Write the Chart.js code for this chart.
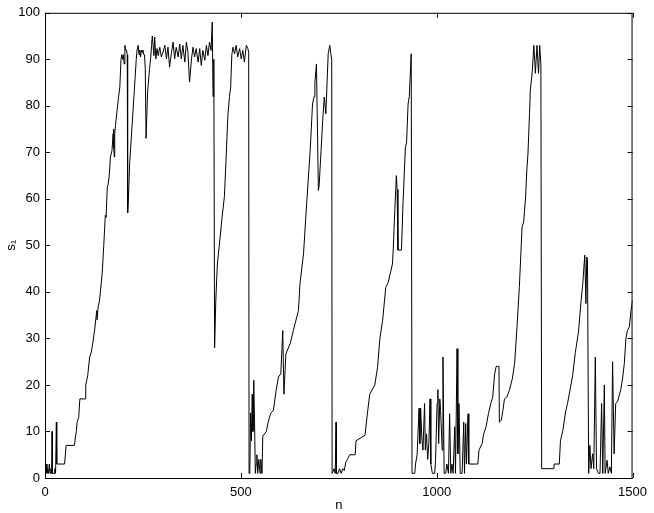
<!DOCTYPE html>
<html>
<head>
<meta charset="utf-8">
<script src="https://cdn.jsdelivr.net/npm/chart.js@4/dist/chart.umd.min.js"></script>
<style>
  html, body { margin: 0; padding: 0; background: #fff; }
  #wrap { width: 654px; height: 513px; }
</style>
</head>
<body>
<div id="wrap"><canvas id="chart" width="654" height="513"></canvas></div>
<script>
// step index n and state s_1
const nValues = [
  0, 1, 3, 5, 7, 9, 11, 13, 15, 17, 18, 19, 23, 25, 27, 29, 30, 50, 54, 75,
  78, 80, 82, 86, 89, 103, 104, 109, 114, 118, 122, 127, 132, 133, 136, 139, 146, 150, 154, 156,
  159, 161, 164, 167, 171, 174, 175, 176, 177, 178, 180, 184, 188, 191, 194, 196, 198, 200, 202, 204,
  206, 208, 210, 211, 213, 216, 222, 228, 233, 235, 238, 240, 242, 244, 246, 248, 250, 252, 254, 256,
  258, 262, 267, 270, 272, 274, 278, 280, 283, 286, 289, 293, 297, 301, 306, 310, 314, 318, 323, 327,
  331, 335, 340, 344, 348, 352, 357, 361, 365, 369, 374, 378, 382, 386, 391, 395, 399, 403, 408, 412,
  416, 420, 424, 427, 429, 431, 433, 436, 440, 445, 452, 458, 462, 467, 471, 474, 477, 480, 484, 488,
  492, 497, 501, 505, 509, 514, 518, 520, 521, 523, 525, 527, 529, 531, 533, 535, 537, 539, 541, 543,
  546, 549, 551, 554, 556, 565, 569, 573, 577, 583, 586, 590, 596, 602, 607, 610, 615, 626, 634, 647,
  651, 660, 668, 677, 683, 687, 689, 693, 698, 700, 709, 713, 717, 723, 727, 732, 733, 738, 741, 743,
  744, 748, 752, 756, 760, 764, 768, 772, 778, 792, 794, 817, 823, 829, 842, 849, 855, 862, 870, 876,
  887, 889, 893, 897, 899, 901, 910, 914, 920, 923, 927, 930, 935, 937, 944, 946, 950, 955, 957, 959,
  962, 965, 969, 971, 974, 977, 980, 983, 985, 989, 995, 997, 1001, 1003, 1005, 1008, 1010, 1014, 1016, 1019,
  1023, 1026, 1030, 1033, 1036, 1039, 1042, 1046, 1048, 1052, 1054, 1057, 1060, 1065, 1069, 1071, 1074, 1076, 1080, 1082,
  1105, 1108, 1116, 1120, 1126, 1132, 1138, 1143, 1148, 1152, 1159, 1160, 1165, 1169, 1173, 1179, 1186, 1193, 1199, 1205,
  1211, 1218, 1222, 1227, 1230, 1233, 1237, 1239, 1244, 1248, 1252, 1256, 1260, 1263, 1266, 1268, 1299, 1300, 1313, 1316,
  1322, 1329, 1334, 1347, 1354, 1362, 1368, 1373, 1378, 1381, 1383, 1385, 1388, 1391, 1394, 1398, 1401, 1405, 1408, 1413,
  1417, 1421, 1424, 1428, 1430, 1435, 1438, 1442, 1446, 1449, 1453, 1457, 1462, 1470, 1475, 1479, 1483, 1487, 1492, 1496,
  1500
];
const sValues = [
  20, 1, 3, 1, 2, 1, 3, 1, 2, 1, 10, 1, 1, 2, 1, 12, 3, 3, 7, 7,
  9, 10, 12, 13, 17, 17, 20, 22, 26, 27, 29, 32, 36, 34, 37, 38, 44, 50, 56.5, 56,
  62.5, 63, 65, 69, 70.4, 74, 75, 71, 69, 74, 75.8, 79, 82, 84, 90, 91, 90, 91, 89, 93,
  92, 92, 91, 57, 60, 67.5, 75.4, 83.3, 90, 92, 93, 91, 92, 90.5, 92, 91.5, 92, 91, 91, 88,
  73, 83, 88, 90.5, 93, 95, 90.8, 94.8, 90.1, 92.3, 90.8, 92.6, 90.5, 91.5, 93, 90.1, 92.6, 88.3, 91.5, 93.7,
  90.1, 92.6, 90.5, 93.3, 90.1, 93, 89.4, 93.7, 91.5, 85.1, 90.1, 92.6, 90.5, 92.3, 89.4, 92.3, 88.7, 91.9, 89.8, 93,
  90.8, 93.7, 91.9, 98, 82, 90, 28, 38, 46, 50, 56, 60.5, 68, 78, 82, 84, 91, 92.6, 91.2, 93,
  90.5, 92.3, 90.1, 91.9, 89.4, 93, 92.3, 91.5, 1, 2, 14, 8, 18, 10, 21, 12, 1, 3, 5, 1,
  4, 1, 4, 1, 9, 10, 11.7, 13, 14, 14.5, 16.3, 18.8, 21.7, 22.4, 31.7, 18, 26.7, 28.9, 31.7, 36,
  41.8, 48.2, 59, 70.4, 80.4, 82, 85, 89, 61.8, 63, 76.9, 81.9, 78.3, 91.2, 93, 89.8, 1, 2, 1, 12,
  1, 1, 2, 1, 2, 1.6, 3.4, 4, 5, 5, 8, 9.2, 13.8, 18, 20, 23.8, 30, 33.9, 41, 42,
  46, 49, 57.5, 65, 62, 49, 49, 59, 71, 72, 80.4, 82, 91.2, 1, 1, 3, 5, 15, 7.4, 15,
  8.8, 6, 16, 6, 9.5, 4, 7.4, 17, 3, 1, 1, 3.8, 16, 19, 7.4, 17, 14.5, 6, 26, 1,
  1, 3, 1, 13.8, 1, 3, 1, 11, 1, 27.8, 5.2, 16, 1, 1, 12, 1, 11.7, 3, 13.8, 3,
  3, 6, 7.4, 9.5, 11, 13.8, 16, 17.4, 22.4, 24, 24, 12, 12.4, 14.5, 17, 17.4, 19, 21.3, 24.6, 32.4,
  41, 54, 55, 60.4, 66, 69.7, 78.3, 83.3, 87.3, 93, 87, 93, 87, 93, 89, 2, 2, 3, 3, 8,
  10.2, 14.2, 16, 22, 27, 31.4, 37.5, 41.8, 47.9, 37.5, 47.5, 47, 1, 7, 2, 5.2, 2, 26, 2, 1,
  1, 16, 1, 20, 1, 3.8, 1, 2.4, 1, 25, 5.2, 16, 16.5, 19, 21.7, 24.6, 30, 31.7, 32.5, 36,
  38.2
];
const xTicks = [0, 500, 1000, 1500];
const yTicks = [0, 10, 20, 30, 40, 50, 60, 70, 80, 90, 100];
const xTitle = 'n';
const yTitle = 's\u2081';

const points = nValues.map((n, i) => ({ x: n, y: sValues[i] }));
const tickFont = { family: 'Liberation Sans, Arial, sans-serif', size: 13 };

// box with inward ticks on all four sides, like the original figure
const boxPlugin = {
  id: 'box',
  afterDraw(chart) {
    const ctx = chart.ctx;
    const a = chart.chartArea;
    const xs = chart.scales.x, ys = chart.scales.y;
    const len = 5;
    ctx.save();
    ctx.strokeStyle = '#000';
    ctx.lineWidth = 1;
    ctx.strokeRect(a.left + 0.5, a.top + 0.5, a.right - a.left - 1, a.bottom - a.top);
    ctx.beginPath();
    xTicks.forEach(v => {
      const px = Math.round(xs.getPixelForValue(v)) + 0.5;
      ctx.moveTo(px, a.bottom); ctx.lineTo(px, a.bottom - len);
      ctx.moveTo(px, a.top); ctx.lineTo(px, a.top + len);
    });
    yTicks.forEach(v => {
      const py = Math.round(ys.getPixelForValue(v)) + 0.5;
      ctx.moveTo(a.left, py); ctx.lineTo(a.left + len, py);
      ctx.moveTo(a.right, py); ctx.lineTo(a.right - len, py);
    });
    ctx.stroke();
    ctx.restore();
  }
};

new Chart(document.getElementById('chart'), {
  type: 'line',
  data: {
    datasets: [{
      data: points,
      borderColor: '#000',
      borderWidth: 1,
      pointRadius: 0,
      tension: 0,
      fill: false
    }]
  },
  options: {
    responsive: false,
    animation: false,
    events: [],
    layout: { padding: { top: 12, right: 20, bottom: 0, left: 0 } },
    plugins: { legend: { display: false }, tooltip: { enabled: false } },
    scales: {
      x: {
        type: 'linear',
        min: 0, max: 1500,
        afterBuildTicks: s => { s.ticks = xTicks.map(v => ({ value: v })); },
        afterFit: s => { s.height = 35; },
        grid: { display: false, drawTicks: false },
        border: { display: false },
        ticks: { color: '#000', font: tickFont, padding: 7, maxRotation: 0, callback: v => String(v) },
        title: { display: true, text: xTitle, color: '#000', font: tickFont, padding: 0 }
      },
      y: {
        min: 0, max: 100,
        afterBuildTicks: s => { s.ticks = yTicks.map(v => ({ value: v })); },
        afterFit: s => { s.width = 45; },
        grid: { display: false, drawTicks: false },
        border: { display: false },
        ticks: { color: '#000', font: tickFont, padding: 5, callback: v => String(v) },
        title: { display: true, text: yTitle, color: '#000', font: tickFont, padding: { top: 4, bottom: 0 } }
      }
    }
  },
  plugins: [boxPlugin]
});
</script>
</body>
</html>
